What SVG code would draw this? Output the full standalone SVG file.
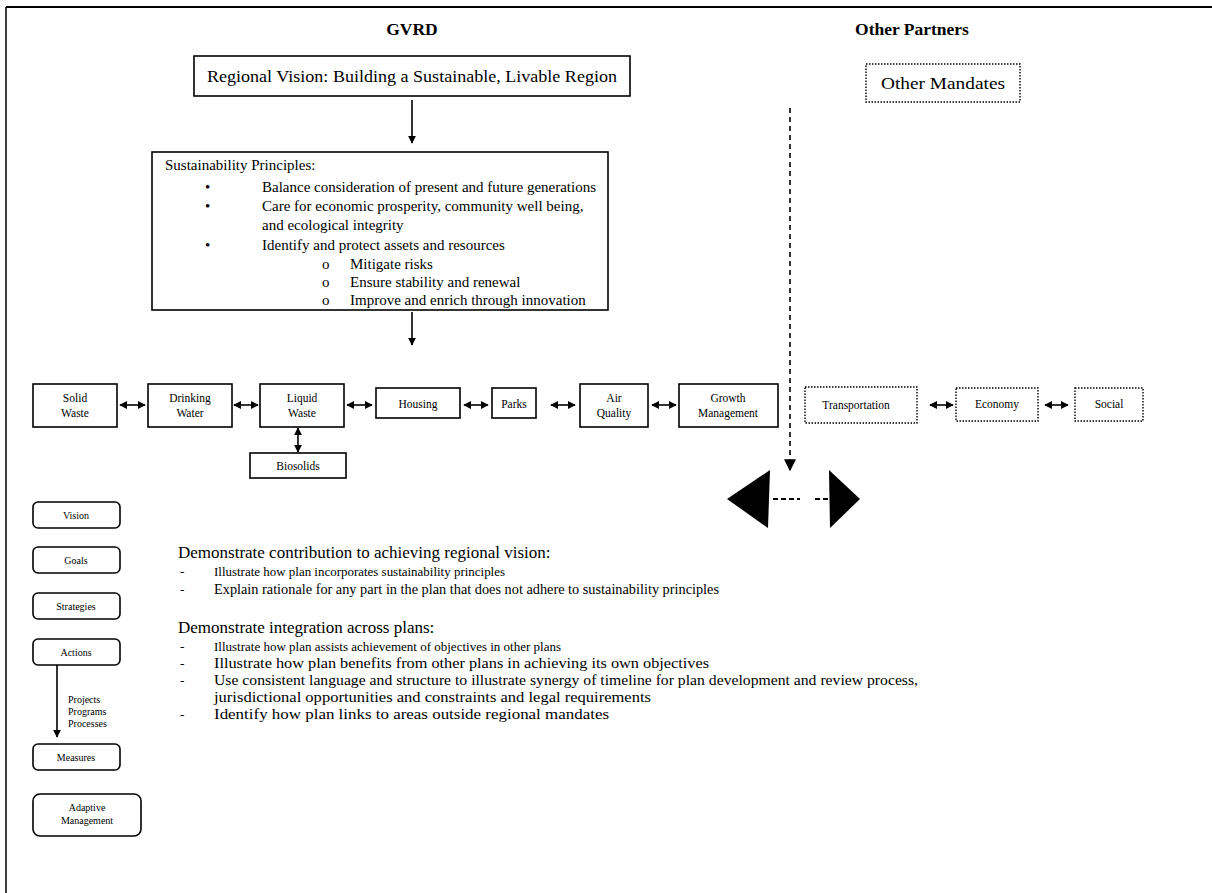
<svg xmlns="http://www.w3.org/2000/svg" width="1212" height="893" viewBox="0 0 1212 893">
<defs>
<style>
text{font-family:"Liberation Serif","Times New Roman",serif;fill:#000}
.box{fill:#fff;stroke:#000;stroke-width:1.6}
.dot{fill:#fff;stroke:#000;stroke-width:1.4;stroke-dasharray:1.5 1.5}
.lbl{font-size:11.5px;text-anchor:middle}
.rl{font-size:10px;text-anchor:middle}
.rs{font-size:10px}
.hd{font-size:17.5px;font-weight:bold;text-anchor:middle}
.pr{font-size:15px}
.vt{font-size:17px;text-anchor:middle}
.big{font-size:17px}
.sm{font-size:13.5px}
.md{font-size:14.5px}
.conn{stroke:#000;stroke-width:1.6;fill:none}
</style>
<marker id="ah" viewBox="0 0 10 10" refX="9" refY="5" markerWidth="8" markerHeight="8" markerUnits="userSpaceOnUse" orient="auto-start-reverse"><path d="M0,0 L10,5 L0,10 z" fill="#000"/></marker>
<marker id="ahs" viewBox="0 0 10 10" refX="9" refY="5" markerWidth="8" markerHeight="9" markerUnits="userSpaceOnUse" orient="auto-start-reverse"><path d="M0,0 L10,5 L0,10 z" fill="#000"/></marker>
<marker id="ahb" viewBox="0 0 10 10" refX="9" refY="5" markerWidth="12" markerHeight="14" markerUnits="userSpaceOnUse" orient="auto"><path d="M0,0 L10,5 L0,10 z" fill="#000"/></marker>
</defs>
<rect width="1212" height="893" fill="#fff"/>
<g id="frame">
<line x1="6" y1="7" x2="1212" y2="7" stroke="#000" stroke-width="2"/>
<line x1="6" y1="7" x2="6" y2="893" stroke="#000" stroke-width="1.5"/>
</g>
<text class="hd" x="412" y="35">GVRD</text>
<text class="hd" x="912" y="35">Other Partners</text>

<g id="connectors">
<line class="conn" x1="412" y1="100" x2="412" y2="143" marker-end="url(#ah)"/>
<line class="conn" x1="412" y1="312" x2="412" y2="345" marker-end="url(#ah)"/>
<line class="conn" x1="790" y1="108" x2="790" y2="470" stroke-width="2" stroke-dasharray="5 4" marker-end="url(#ahb)"/>
<line class="conn" x1="120" y1="405" x2="145" y2="405" marker-start="url(#ahs)" marker-end="url(#ahs)"/>
<line class="conn" x1="234" y1="405" x2="258" y2="405" marker-start="url(#ahs)" marker-end="url(#ahs)"/>
<line class="conn" x1="347" y1="405" x2="372" y2="405" marker-start="url(#ahs)" marker-end="url(#ahs)"/>
<line class="conn" x1="464" y1="405" x2="488" y2="405" marker-start="url(#ahs)" marker-end="url(#ahs)"/>
<line class="conn" x1="551" y1="405" x2="575" y2="405" marker-start="url(#ahs)" marker-end="url(#ahs)"/>
<line class="conn" x1="652" y1="405" x2="676" y2="405" marker-start="url(#ahs)" marker-end="url(#ahs)"/>
<line class="conn" x1="930" y1="405" x2="953" y2="405" marker-start="url(#ahs)" marker-end="url(#ahs)"/>
<line class="conn" x1="1045" y1="405" x2="1068" y2="405" marker-start="url(#ahs)" marker-end="url(#ahs)"/>
<line class="conn" x1="298" y1="428" x2="298" y2="452" marker-start="url(#ahs)" marker-end="url(#ahs)"/>
<line class="conn" x1="57" y1="665" x2="57" y2="737" marker-end="url(#ah)"/>
<polygon points="727,499 770,470 768,528" fill="#000"/>
<line x1="773" y1="499" x2="800" y2="499" stroke="#000" stroke-width="2" stroke-dasharray="5 3"/>
<line x1="815" y1="499" x2="829" y2="499" stroke="#000" stroke-width="2" stroke-dasharray="5 3"/>
<polygon points="860,499 829,470 830,528" fill="#000"/>
</g>

<g id="vision">
<rect class="box" x="194" y="56" width="436" height="40" stroke-width="2"/>
<text class="vt" x="412" y="82" textLength="410" lengthAdjust="spacingAndGlyphs">Regional Vision: Building a Sustainable, Livable Region</text>
</g>
<g id="other-mandates">
<rect class="dot" x="866" y="64" width="154" height="38"/>
<text class="vt" x="943" y="89" textLength="124" lengthAdjust="spacingAndGlyphs">Other Mandates</text>
</g>
<g id="principles">
<rect class="box" x="152" y="152" width="456" height="158" stroke-width="2"/>
<text class="pr" x="165" y="170">Sustainability Principles:</text>
<text class="pr" x="205" y="192">•</text><text class="pr" x="262" y="192">Balance consideration of present and future generations</text>
<text class="pr" x="205" y="211">•</text><text class="pr" x="262" y="211">Care for economic prosperity, community well being,</text>
<text class="pr" x="262" y="230">and ecological integrity</text>
<text class="pr" x="205" y="250">•</text><text class="pr" x="262" y="250">Identify and protect assets and resources</text>
<text class="pr" x="322" y="269">o</text><text class="pr" x="350" y="269">Mitigate risks</text>
<text class="pr" x="322" y="287">o</text><text class="pr" x="350" y="287">Ensure stability and renewal</text>
<text class="pr" x="322" y="305">o</text><text class="pr" x="350" y="305">Improve and enrich through innovation</text>
</g>

<g id="solid-waste"><rect class="box" x="33" y="384" width="84" height="43"/><text class="lbl" x="75" y="402">Solid</text><text class="lbl" x="75" y="417">Waste</text></g>
<g id="drinking-water"><rect class="box" x="148" y="384" width="84" height="43"/><text class="lbl" x="190" y="402">Drinking</text><text class="lbl" x="190" y="417">Water</text></g>
<g id="liquid-waste"><rect class="box" x="260" y="384" width="84" height="43"/><text class="lbl" x="302" y="402">Liquid</text><text class="lbl" x="302" y="417">Waste</text></g>
<g id="housing"><rect class="box" x="376" y="388" width="84" height="30"/><text class="lbl" x="418" y="408">Housing</text></g>
<g id="parks"><rect class="box" x="492" y="388" width="44" height="30"/><text class="lbl" x="514" y="408">Parks</text></g>
<g id="air-quality"><rect class="box" x="580" y="384" width="68" height="43"/><text class="lbl" x="614" y="402">Air</text><text class="lbl" x="614" y="417">Quality</text></g>
<g id="growth-management"><rect class="box" x="679" y="384" width="99" height="43"/><text class="lbl" x="728" y="402">Growth</text><text class="lbl" x="728" y="417">Management</text></g>
<g id="biosolids"><rect class="box" x="250" y="453" width="96" height="25"/><text class="lbl" x="298" y="470">Biosolids</text></g>
<g id="transportation"><rect class="dot" x="805" y="387" width="112" height="36"/><text class="lbl" x="856" y="409">Transportation</text></g>
<g id="economy"><rect class="dot" x="956" y="388" width="82" height="33"/><text class="lbl" x="997" y="408">Economy</text></g>
<g id="social"><rect class="dot" x="1075" y="388" width="68" height="33"/><text class="lbl" x="1109" y="408">Social</text></g>

<g id="vision-step"><rect class="box" x="33" y="502" width="87" height="26" rx="5"/><text class="rl" x="76" y="519">Vision</text></g>
<g id="goals"><rect class="box" x="33" y="547" width="87" height="26" rx="5"/><text class="rl" x="76" y="564">Goals</text></g>
<g id="strategies"><rect class="box" x="33" y="593" width="87" height="26" rx="5"/><text class="rl" x="76" y="610">Strategies</text></g>
<g id="actions"><rect class="box" x="33" y="639" width="87" height="26" rx="5"/><text class="rl" x="76" y="656">Actions</text></g>
<g id="action-types">
<text class="rs" x="68" y="703">Projects</text>
<text class="rs" x="68" y="715">Programs</text>
<text class="rs" x="68" y="727">Processes</text>
</g>
<g id="measures"><rect class="box" x="33" y="744" width="87" height="26" rx="5"/><text class="rl" x="76" y="761">Measures</text></g>
<g id="adaptive-management"><rect class="box" x="33" y="794" width="108" height="42" rx="7"/><text class="rl" x="87" y="811">Adaptive</text><text class="rl" x="87" y="824">Management</text></g>

<g id="text-block">
<text class="big" x="178" y="558">Demonstrate contribution to achieving regional vision:</text>
<text class="sm" x="180" y="576">-</text><text class="sm" x="214" y="576" textLength="291" lengthAdjust="spacingAndGlyphs">Illustrate how plan incorporates sustainability principles</text>
<text class="sm" x="180" y="594">-</text><text class="md" x="214" y="594" textLength="505" lengthAdjust="spacingAndGlyphs">Explain rationale for any part in the plan that does not adhere to sustainability principles</text>
<text class="big" x="178" y="633">Demonstrate integration across plans:</text>
<text class="sm" x="180" y="651">-</text><text class="sm" x="214" y="651" textLength="347" lengthAdjust="spacingAndGlyphs">Illustrate how plan assists achievement of objectives in other plans</text>
<text class="sm" x="180" y="668">-</text><text class="md" x="214" y="668" textLength="495" lengthAdjust="spacingAndGlyphs">Illustrate how plan benefits from other plans in achieving its own objectives</text>
<text class="sm" x="180" y="685">-</text><text class="md" x="214" y="685" textLength="704" lengthAdjust="spacingAndGlyphs">Use consistent language and structure to illustrate synergy of timeline for plan development and review process,</text>
<text class="md" x="214" y="702" textLength="437" lengthAdjust="spacingAndGlyphs">jurisdictional opportunities and constraints and legal requirements</text>
<text class="sm" x="180" y="719">-</text><text class="md" x="214" y="719" textLength="395" lengthAdjust="spacingAndGlyphs">Identify how plan links to areas outside regional mandates</text>
</g>
</svg>
